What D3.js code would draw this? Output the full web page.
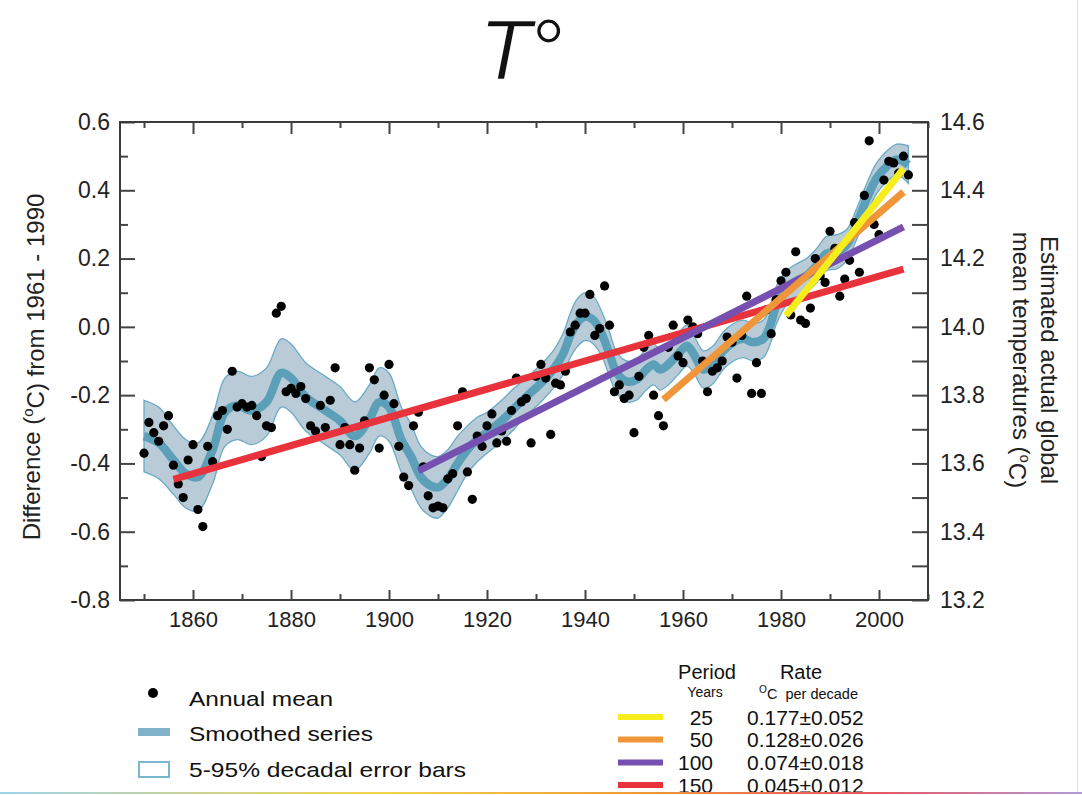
<!DOCTYPE html>
<html>
<head>
<meta charset="UTF-8">
<style>
  body { margin: 0; background: #fff; }
  svg { display: block; font-family: "Liberation Sans", Arial, sans-serif; }
  .tick line { stroke: #444; stroke-width: 2; }
  .tick text { fill: #222; font-size: 23px; font-family: "Liberation Sans", Arial, sans-serif; }
  .xax .tick text { font-size: 22px; }
</style>
<script src="https://d3js.org/d3.v7.min.js"></script>
</head>
<body>
<svg id="chart"></svg>
<script>
// annual means, one per year from 1850
const firstYear = 1850;
const annualMean = [
  -0.37, -0.28, -0.31, -0.335, -0.29, -0.26, -0.405, -0.46, -0.50, -0.39,
  -0.345, -0.535, -0.585, -0.35, -0.395, -0.26, -0.245, -0.30, -0.13, -0.235,
  -0.225, -0.235, -0.23, -0.26, -0.38, -0.29, -0.295, 0.04, 0.06, -0.19,
  -0.18, -0.195, -0.175, -0.21, -0.29, -0.305, -0.23, -0.295, -0.215, -0.12,
  -0.345, -0.295, -0.345, -0.42, -0.355, -0.275, -0.12, -0.155, -0.355, -0.20,
  -0.11, -0.225, -0.35, -0.44, -0.465, -0.29, -0.25, -0.41, -0.495, -0.53,
  -0.525, -0.53, -0.445, -0.43, -0.29, -0.19, -0.425, -0.505, -0.32, -0.35,
  -0.29, -0.255, -0.34, -0.305, -0.335, -0.245, -0.15, -0.22, -0.21, -0.34,
  -0.145, -0.11, -0.15, -0.315, -0.165, -0.17, -0.13, -0.015, 0.005, 0.04,
  0.04, 0.095, -0.025, -0.005, 0.12, 0.005, -0.19, -0.17, -0.21, -0.20,
  -0.31, -0.145, -0.06, -0.025, -0.20, -0.26, -0.29, -0.06, 0.005, -0.085,
  -0.105, 0.02, 0.00, -0.02, -0.10, -0.19, -0.13, -0.12, -0.10, -0.03,
  -0.045, -0.15, -0.025, 0.09, -0.195, -0.105, -0.195, 0.05, -0.02, 0.08,
  0.135, 0.16, 0.035, 0.22, 0.02, 0.01, 0.055, 0.20, 0.15, 0.13,
  0.28, 0.23, 0.09, 0.14, 0.195, 0.305, 0.16, 0.385, 0.545, 0.30,
  0.27, 0.43, 0.485, 0.48, 0.45, 0.50, 0.445
];

// smoothed series and half width of the 5-95% band
const smoothYears = [1850, 1853, 1856, 1858.5, 1861, 1864, 1866.5, 1869, 1872, 1875,
  1878, 1880, 1883, 1887, 1890, 1893, 1896, 1898, 1900, 1902.5,
  1904.5, 1906.5, 1908.5, 1910, 1912, 1914, 1916, 1918, 1920, 1923,
  1925.5, 1928, 1931, 1933.5, 1935.5, 1937, 1938.3, 1940, 1941.7, 1943.4,
  1945, 1946.5, 1948.5, 1950.5, 1952.5, 1954, 1955.3, 1957, 1959, 1960.8,
  1962.2, 1964.2, 1966.2, 1968.2, 1970.3, 1972.3, 1974.3, 1976.4, 1977.8, 1979.1,
  1981.2, 1983.2, 1985.2, 1987.3, 1989.3, 1991.4, 1993.4, 1995.4, 1997.5, 1999.5,
  2001.6, 2003.6, 2006];
const smoothValues = [-0.32, -0.34, -0.39, -0.43, -0.44, -0.36, -0.25, -0.23, -0.245, -0.22,
  -0.135, -0.15, -0.205, -0.245, -0.275, -0.32, -0.27, -0.22, -0.235, -0.33,
  -0.38, -0.44, -0.465, -0.47, -0.445, -0.40, -0.36, -0.33, -0.31, -0.275,
  -0.24, -0.205, -0.165, -0.125, -0.08, -0.025, 0.01, 0.03, 0.02, -0.02,
  -0.08, -0.135, -0.16, -0.155, -0.125, -0.11, -0.125, -0.11, -0.08, -0.055,
  -0.08, -0.125, -0.11, -0.07, -0.045, -0.035, -0.045, -0.035, 0.005, 0.065,
  0.115, 0.135, 0.15, 0.18, 0.215, 0.22, 0.24, 0.30, 0.375, 0.435,
  0.47, 0.49, 0.475];
const bandHalf = [0.105, 0.105, 0.10, 0.10, 0.10, 0.10, 0.10, 0.10, 0.10, 0.10,
  0.10, 0.10, 0.10, 0.10, 0.10, 0.10, 0.10, 0.10, 0.10, 0.095,
  0.095, 0.09, 0.09, 0.09, 0.085, 0.08, 0.07, 0.065, 0.06, 0.06,
  0.06, 0.055, 0.055, 0.055, 0.06, 0.065, 0.07, 0.07, 0.07, 0.065,
  0.065, 0.06, 0.06, 0.06, 0.06, 0.06, 0.06, 0.06, 0.06, 0.06,
  0.055, 0.055, 0.055, 0.055, 0.055, 0.055, 0.055, 0.055, 0.055, 0.055,
  0.05, 0.05, 0.05, 0.05, 0.05, 0.05, 0.045, 0.045, 0.045, 0.045,
  0.045, 0.045, 0.055];

// linear trends
const trendPeriods = [25, 50, 100, 150];
const trendRates = ["0.177\u00b10.052", "0.128\u00b10.026", "0.074\u00b10.018", "0.045\u00b10.012"];
const trendStart = [1981, 1956, 1906, 1856];
const trendEnd = [2005, 2005, 2005, 2005];
const trendStartValue = [0.033, -0.213, -0.422, -0.447];
const trendEndValue = [0.463, 0.395, 0.293, 0.169];
const trendColors = ["#f6ee1c", "#f0963a", "#7650b0", "#e8333d"];

const leftTicks = [-0.8, -0.6, -0.4, -0.2, 0.0, 0.2, 0.4, 0.6];
const leftMinor = [-0.7, -0.5, -0.3, -0.1, 0.1, 0.3, 0.5];
const rightTicks = [13.2, 13.4, 13.6, 13.8, 14.0, 14.2, 14.4, 14.6];
const rightMinor = [13.3, 13.5, 13.7, 13.9, 14.1, 14.3, 14.5];
const yearLabels = [1860, 1880, 1900, 1920, 1940, 1960, 1980, 2000];
const yearMinor = [1850, 1870, 1890, 1910, 1930, 1950, 1970, 1990, 2010];

const W = 1082, H = 795;
const pLeft = 120, pRight = 928, pTop = 122, pBottom = 600;

const svg = d3.select("#chart").attr("width", W).attr("height", H);

const x = d3.scaleLinear().domain([1845.1, 2010]).range([pLeft, pRight]);
const y = d3.scaleLinear().domain([-0.8, 0.6]).range([pBottom, pTop]);
const yRight = d3.scaleLinear().domain([13.2, 14.6]).range([pBottom, pTop]);

// title, one text with the italic T and the degree sign
const title = svg.append("text")
  .attr("x", 479).attr("y", 79)
  .attr("font-family", "'Liberation Sans', Arial, sans-serif")
  .attr("font-size", 86).attr("fill", "#111")
  .attr("stroke", "#fff");
title.append("tspan").attr("font-style", "italic").attr("stroke-width", 1.6).text("T");
title.append("tspan").attr("stroke-width", 1.2).text("\u00b0");

// band + smoothed series
const smooth = smoothYears.map((yr, i) => ({ yr: yr, v: smoothValues[i], h: bandHalf[i] }));
const curve = d3.curveCatmullRom.alpha(0.5);

svg.append("path")
  .datum(smooth)
  .attr("d", d3.area().curve(curve)
    .x(d => x(d.yr)).y0(d => y(d.v - d.h)).y1(d => y(d.v + d.h)))
  .attr("fill", "#b9cbd6")
  .attr("stroke", "#6aaac6")
  .attr("stroke-width", 1.3);

svg.append("path")
  .datum(smooth)
  .attr("d", d3.line().curve(curve).x(d => x(d.yr)).y(d => y(d.v)))
  .attr("fill", "none")
  .attr("stroke", "#5c9fb9")
  .attr("stroke-width", 8.5);

// annual dots
svg.append("g")
  .selectAll("circle")
  .data(annualMean)
  .enter()
  .append("circle")
  .attr("cx", (d, i) => x(firstYear + i))
  .attr("cy", d => y(d))
  .attr("r", 4.6)
  .attr("fill", "#000");

// trend lines, longest first
const trends = trendPeriods.map((p, i) => ({
  p: p, c: trendColors[i],
  x1: trendStart[i], y1: trendStartValue[i], x2: trendEnd[i], y2: trendEndValue[i]
}));
svg.append("g")
  .selectAll("line")
  .data(trends.slice().reverse())
  .enter()
  .append("line")
  .attr("x1", d => x(d.x1)).attr("y1", d => y(d.y1))
  .attr("x2", d => x(d.x2)).attr("y2", d => y(d.y2))
  .attr("stroke", d => d.c)
  .attr("stroke-width", 7);

// axes, ticks pointing into the frame
function addAxis(axis, tr, cls) {
  svg.append("g").attr("class", cls || "").attr("transform", tr).call(axis)
    .call(g => g.select(".domain").remove());
}
const fmt = d => d.toFixed(1);
addAxis(d3.axisLeft(y).tickValues(leftMinor).tickSizeInner(-8).tickSizeOuter(0).tickFormat(""), `translate(${pLeft},0)`);
addAxis(d3.axisLeft(y).tickValues(leftTicks).tickSizeInner(-15).tickSizeOuter(0).tickPadding(10).tickFormat(fmt), `translate(${pLeft},0)`);
addAxis(d3.axisRight(yRight).tickValues(rightMinor).tickSizeInner(-16).tickSizeOuter(0).tickFormat(""), `translate(${pRight},0)`);
addAxis(d3.axisRight(yRight).tickValues(rightTicks).tickSizeInner(-16).tickSizeOuter(0).tickPadding(12).tickFormat(fmt), `translate(${pRight},0)`);
addAxis(d3.axisBottom(x).tickValues(yearMinor).tickSizeInner(-6).tickSizeOuter(0).tickFormat(""), `translate(0,${pBottom})`);
addAxis(d3.axisBottom(x).tickValues(yearLabels).tickSizeInner(-10).tickSizeOuter(0).tickPadding(11).tickFormat(d3.format("d")), `translate(0,${pBottom})`, "xax");
addAxis(d3.axisTop(x).tickValues(yearMinor).tickSizeInner(-6).tickSizeOuter(0).tickFormat(""), `translate(0,${pTop})`);
addAxis(d3.axisTop(x).tickValues(yearLabels).tickSizeInner(-12).tickSizeOuter(0).tickFormat(""), `translate(0,${pTop})`);

svg.append("rect")
  .attr("x", pLeft).attr("y", pTop)
  .attr("width", pRight - pLeft).attr("height", pBottom - pTop)
  .attr("fill", "none").attr("stroke", "#3c3c3c").attr("stroke-width", 2);

// axis titles
function degText(sel, before, after) {
  sel.append("tspan").text(before);
  sel.append("tspan").attr("dy", "-0.45em").attr("font-size", "0.62em").text("o");
  sel.append("tspan").attr("dy", "0.45em").text(after);
}
const lt = svg.append("text")
  .attr("transform", "translate(40,367) rotate(-90)")
  .attr("text-anchor", "middle").attr("font-size", 24).attr("fill", "#222");
degText(lt, "Difference (", "C) from 1961 - 1990");

svg.append("text")
  .attr("transform", "translate(1041,360) rotate(90)")
  .attr("text-anchor", "middle").attr("font-size", 24).attr("fill", "#222")
  .text("Estimated actual global");
const rt = svg.append("text")
  .attr("transform", "translate(1013,360) rotate(90)")
  .attr("text-anchor", "middle").attr("font-size", 24).attr("fill", "#222");
degText(rt, "mean temperatures (", "C)");

// left legend
const leg = svg.append("g").attr("font-size", 21).attr("fill", "#111");
leg.append("circle").attr("cx", 153).attr("cy", 693).attr("r", 5).attr("fill", "#000");
leg.append("rect").attr("x", 138).attr("y", 728).attr("width", 32).attr("height", 8).attr("fill", "#80b3c9");
leg.append("rect").attr("x", 139).attr("y", 762).attr("width", 30).attr("height", 15)
  .attr("fill", "#fff").attr("stroke", "#7ab8d0").attr("stroke-width", 2);
const legendLabels = ["Annual mean", "Smoothed series", "5-95% decadal error bars"];
const legendWidths = [144, 184, 277];
const legendBase = [706, 741, 777];
leg.selectAll("text.lab")
  .data(legendLabels)
  .enter()
  .append("text")
  .attr("class", "lab")
  .attr("x", 189)
  .attr("y", (d, i) => legendBase[i])
  .attr("textLength", (d, i) => legendWidths[i])
  .attr("lengthAdjust", "spacingAndGlyphs")
  .text(d => d);

// trend legend
const tl = svg.append("g").attr("fill", "#111");
tl.append("text").attr("x", 707).attr("y", 679).attr("text-anchor", "middle").attr("font-size", 20).text("Period");
tl.append("text").attr("x", 801).attr("y", 679).attr("text-anchor", "middle").attr("font-size", 20).text("Rate");
tl.append("text").attr("x", 705).attr("y", 697).attr("text-anchor", "middle").attr("font-size", 14).text("Years");
const unit = tl.append("text").attr("x", 759).attr("y", 697).attr("font-size", 14.5).attr("xml:space", "preserve");
unit.append("tspan").attr("dy", "-0.4em").attr("font-size", "0.7em").text("O");
unit.append("tspan").attr("dy", "0.4em").text("C  per decade");

const rowY = [717, 739.5, 762.5, 785];
const rows = tl.selectAll("g.row")
  .data(trends)
  .enter()
  .append("g")
  .attr("class", "row");
rows.append("line")
  .attr("x1", 618).attr("x2", 663)
  .attr("y1", (d, i) => rowY[i]).attr("y2", (d, i) => rowY[i])
  .attr("stroke", d => d.c).attr("stroke-width", 6);
rows.append("text")
  .attr("x", 713).attr("y", (d, i) => rowY[i] + 7.5)
  .attr("text-anchor", "end").attr("font-size", 21)
  .text(d => d.p);
rows.append("text")
  .attr("x", 747).attr("y", (d, i) => rowY[i] + 7.5)
  .attr("font-size", 21)
  .text((d, i) => trendRates[i]);

// slide decorations
const grad = svg.append("defs").append("linearGradient").attr("id", "rb");
[["0%", "#9fd3ea"], ["35%", "#f3d54a"], ["60%", "#f0963a"], ["80%", "#e8555d"], ["100%", "#b49ad8"]]
  .forEach(s => grad.append("stop").attr("offset", s[0]).attr("stop-color", s[1]));
svg.append("rect").attr("x", 0).attr("y", 792).attr("width", W).attr("height", 2).attr("fill", "url(#rb)");
svg.append("line").attr("x1", 1077.5).attr("x2", 1077.5).attr("y1", 0).attr("y2", 792)
  .attr("stroke", "#e2e2e2").attr("stroke-width", 1);
</script>
</body>
</html>
